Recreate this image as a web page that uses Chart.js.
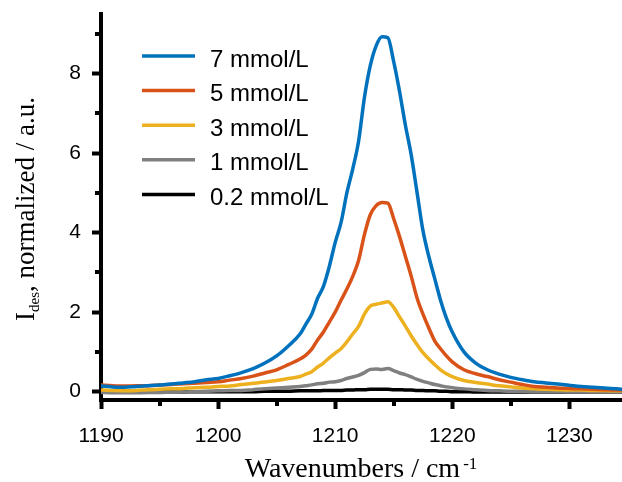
<!DOCTYPE html>
<html>
<head>
<meta charset="utf-8">
<script src="https://cdn.jsdelivr.net/npm/chart.js@4/dist/chart.umd.min.js"></script>
<style>
    html, body { margin: 0; padding: 0; background: #fff; }
    #wrap { width: 622px; height: 482px; }
</style>
</head>
<body>
<div id="wrap"><canvas id="spectrum" width="622" height="482"></canvas></div>
<script>
/* ================================
   Data
================================ */
const wavenumbers = [
    1190, 1191, 1192, 1193, 1194, 1195, 1196, 1197, 1198, 1199, 1200, 1201, 1202, 1203, 1204, 1205, 1206, 1207,
    1207.5, 1208, 1208.5, 1209, 1209.5, 1210, 1210.5, 1211, 1211.5, 1212, 1212.5, 1213, 1213.5,
    1214, 1214.5, 1215, 1215.5, 1216, 1216.5, 1217, 1217.5, 1218, 1218.5, 1219, 1219.5, 1220,
    1221, 1222, 1223, 1224, 1225, 1226, 1227, 1228, 1229, 1230, 1231, 1232, 1233, 1234, 1234.5
];

const conc7 = [
    0.14, 0.12, 0.11, 0.13, 0.15, 0.17, 0.19, 0.22, 0.25, 0.30, 0.33, 0.40, 0.48, 0.58, 0.72, 0.90, 1.15, 1.45,
    1.70, 1.95, 2.35, 2.65, 3.15, 3.75, 4.25, 5.00, 5.60, 6.30, 7.40, 8.20, 8.70,
    8.93, 8.90, 8.30, 7.55, 6.70, 5.95, 5.00, 4.05, 3.40, 2.85, 2.30, 1.85, 1.50,
    1.00, 0.72, 0.55, 0.44, 0.36, 0.30, 0.25, 0.22, 0.19, 0.16, 0.13, 0.11, 0.09, 0.07, 0.06
];
const conc5 = [
    0.17, 0.15, 0.14, 0.15, 0.15, 0.17, 0.18, 0.20, 0.21, 0.23, 0.25, 0.29, 0.33, 0.39, 0.47, 0.55, 0.68, 0.82,
    0.92, 1.07, 1.30, 1.50, 1.75, 2.00, 2.30, 2.58, 2.90, 3.30, 3.95, 4.45, 4.68,
    4.76, 4.74, 4.35, 3.90, 3.40, 2.90, 2.35, 1.95, 1.60, 1.28, 1.08, 0.90, 0.75,
    0.55, 0.45, 0.38, 0.30, 0.24, 0.18, 0.13, 0.11, 0.09, 0.08, 0.07, 0.06, 0.05, 0.04, 0.04
];
const conc3 = [
    0.04, 0.03, 0.02, 0.03, 0.05, 0.06, 0.07, 0.08, 0.10, 0.11, 0.13, 0.14, 0.18, 0.21, 0.24, 0.28, 0.33, 0.38,
    0.44, 0.50, 0.62, 0.72, 0.85, 0.97, 1.08, 1.25, 1.45, 1.64, 1.95, 2.15, 2.20,
    2.23, 2.26, 2.12, 1.88, 1.65, 1.40, 1.18, 0.98, 0.82, 0.68, 0.55, 0.45, 0.38,
    0.28, 0.23, 0.19, 0.15, 0.12, 0.09, 0.07, 0.06, 0.05, 0.04, 0.04, 0.03, 0.03, 0.02, 0.02
];
const conc1 = [
    -0.02, -0.03, -0.03, -0.03, -0.02, -0.02, -0.01, -0.01, 0.00, 0.01, 0.02, 0.03, 0.03, 0.05, 0.07, 0.09, 0.11, 0.13,
    0.15, 0.17, 0.20, 0.21, 0.24, 0.25, 0.28, 0.33, 0.37, 0.41, 0.48, 0.56, 0.57,
    0.56, 0.58, 0.53, 0.47, 0.43, 0.37, 0.31, 0.26, 0.22, 0.18, 0.15, 0.12, 0.10,
    0.07, 0.05, 0.03, 0.02, 0.01, 0.01, 0.00, 0.00, 0.00, -0.01, -0.01, -0.01, -0.01, -0.01, -0.01
];
const conc02 = [
    0.00, 0.00, -0.01, -0.01, 0.00, 0.00, 0.00, -0.01, 0.00, 0.00, 0.00, 0.00, 0.00, 0.00, 0.01, 0.01, 0.01, 0.02,
    0.02, 0.02, 0.02, 0.03, 0.03, 0.03, 0.03, 0.04, 0.04, 0.05, 0.05, 0.06, 0.06,
    0.06, 0.06, 0.05, 0.05, 0.04, 0.04, 0.03, 0.03, 0.02, 0.02, 0.01, 0.01, 0.00,
    0.00, -0.01, -0.01, -0.01, -0.01, -0.01, -0.01, -0.01, -0.01, -0.01, -0.01, -0.01, -0.01, -0.01, -0.01
];

const seriesLabels = ["7 mmol/L", "5 mmol/L", "3 mmol/L", "1 mmol/L", "0.2 mmol/L"];
const seriesColors = ["#0072BD", "#D95319", "#EDB120", "#808080", "#000000"];
const seriesValues = [conc7, conc5, conc3, conc1, conc02];

const xMinorTicks = [1195, 1205, 1215, 1225];
const yMinorTicks = [1, 3, 5, 7, 9];

const SANS = "'Liberation Sans', Arial, sans-serif";
const SERIF = "'Liberation Serif', 'Times New Roman', serif";

/* ================================
   Minor ticks, legend, axis titles
================================ */
const extrasPlugin = {
    id: "extras",
    afterDraw(chart) {
        const ctx = chart.ctx;
        const area = chart.chartArea;
        const xs = chart.scales.x;
        const ys = chart.scales.y;

        ctx.save();
        ctx.fillStyle = "#000";
        yMinorTicks.forEach(v => {
            const py = Math.round(ys.getPixelForValue(v));
            ctx.fillRect(area.left - 6, py - 2, 6, 4);
        });
        xMinorTicks.forEach(v => {
            const px = Math.round(xs.getPixelForValue(v));
            ctx.fillRect(px - 2, area.bottom, 4, 6);
        });

        // legend
        ctx.lineWidth = 3.5;
        ctx.font = "24px " + SANS;
        ctx.textBaseline = "alphabetic";
        chart.data.datasets.forEach((ds, i) => {
            const y = 56 + i * 34.6;
            ctx.strokeStyle = ds.borderColor;
            ctx.beginPath();
            ctx.moveTo(142, y);
            ctx.lineTo(195, y);
            ctx.stroke();
            ctx.fillStyle = "#000";
            ctx.fillText(ds.label, 210, y + 10.5);
        });

        // x title with superscript
        ctx.fillStyle = "#000";
        const mainX = "Wavenumbers / cm";
        const supX = "-1";
        ctx.font = "28px " + SERIF;
        const wMain = ctx.measureText(mainX).width;
        ctx.font = "17px " + SERIF;
        const wSup = ctx.measureText(supX).width;
        const startX = 361 - (wMain + 3 + wSup) / 2;
        ctx.font = "28px " + SERIF;
        ctx.fillText(mainX, startX, 477);
        ctx.font = "17px " + SERIF;
        ctx.fillText(supX, startX + wMain + 3, 469);

        // y title with subscript, rotated
        ctx.translate(34, 209);
        ctx.rotate(-Math.PI / 2);
        const partA = "I";
        const partSub = "des";
        const partB = ", normalized / a.u.";
        ctx.font = "27px " + SERIF;
        const wA = ctx.measureText(partA).width;
        const wB = ctx.measureText(partB).width;
        ctx.font = "15px " + SERIF;
        const wS = ctx.measureText(partSub).width;
        let cx = -(wA + wS + wB) / 2;
        ctx.font = "27px " + SERIF;
        ctx.fillText(partA, cx, 0);
        cx += wA;
        ctx.font = "15px " + SERIF;
        ctx.fillText(partSub, cx, 5);
        cx += wS;
        ctx.font = "27px " + SERIF;
        ctx.fillText(partB, cx, 0);
        ctx.restore();
    }
};

/* ================================
   Chart
================================ */
function buildDatasets() {
    return seriesLabels.map((label, i) => ({
        label: label,
        data: wavenumbers.map((w, j) => ({ x: w, y: seriesValues[i][j] })),
        borderColor: seriesColors[i],
        backgroundColor: seriesColors[i],
        borderWidth: 3.5,
        pointRadius: 0,
        cubicInterpolationMode: "monotone",
        borderJoinStyle: "round",
        borderCapStyle: "round"
    }));
}

function renderSpectrum() {
    const canvas = document.getElementById("spectrum");

    new Chart(canvas, {
        type: "line",
        data: { datasets: buildDatasets() },
        options: {
            responsive: false,
            devicePixelRatio: 1,
            animation: false,
            layout: { padding: { top: 14, right: 0, left: 0, bottom: 0 } },
            plugins: {
                legend: { display: false },
                tooltip: { enabled: false }
            },
            scales: {
                x: {
                    type: "linear",
                    min: 1190,
                    max: 1234.5,
                    afterFit: scale => {
                        scale.height = 82;
                        scale.paddingLeft = 0;
                        scale.paddingRight = 0;
                    },
                    border: { display: true, width: 4, color: "#000" },
                    grid: {
                        drawOnChartArea: false,
                        drawTicks: true,
                        tickLength: 9,
                        tickWidth: 4,
                        tickColor: "#000"
                    },
                    ticks: {
                        stepSize: 10,
                        includeBounds: false,
                        maxRotation: 0,
                        autoSkip: false,
                        padding: 15,
                        color: "#000",
                        font: { family: SANS, size: 21 },
                        callback: v => String(v)
                    }
                },
                y: {
                    type: "linear",
                    min: -0.21,
                    max: 9.5,
                    afterFit: scale => {
                        scale.width = 101;
                        scale.paddingTop = 0;
                        scale.paddingBottom = 0;
                    },
                    border: { display: true, width: 4, color: "#000" },
                    grid: {
                        drawOnChartArea: false,
                        drawTicks: true,
                        tickLength: 9,
                        tickWidth: 4,
                        tickColor: "#000"
                    },
                    ticks: {
                        stepSize: 2,
                        includeBounds: false,
                        autoSkip: false,
                        padding: 11,
                        color: "#000",
                        font: { family: SANS, size: 21 },
                        callback: v => String(v)
                    }
                }
            }
        },
        plugins: [extrasPlugin]
    });
}

document.addEventListener("DOMContentLoaded", renderSpectrum);
</script>
</body>
</html>
